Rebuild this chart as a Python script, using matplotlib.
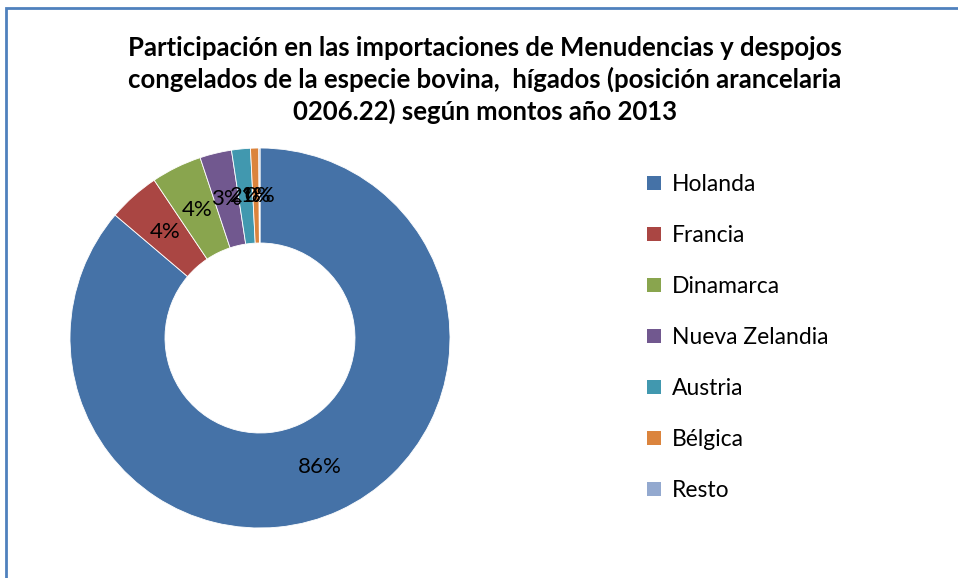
import matplotlib
matplotlib.use("Agg")
import matplotlib.pyplot as plt
from matplotlib.patches import Rectangle, Patch

categories = ["Holanda", "Francia", "Dinamarca", "Nueva Zelandia", "Austria", "Bélgica", "Resto"]
values = [86.2, 4.4, 4.3, 2.7, 1.6, 0.7, 0.1]
colors = ["#4572A7", "#AA4643", "#89A54E", "#71588F", "#4198AF", "#DB843D", "#93A9CF"]
title = ("Participación en las importaciones de Menudencias y despojos\n"
         "congelados de la especie bovina,  hígados (posición arancelaria\n"
         "0206.22) según montos año 2013")

W, H = 958, 578
fig = plt.figure(figsize=(W / 100, H / 100), dpi=100)
plt.rcParams['font.family'] = ['Lato', 'DejaVu Sans']

# frame border (cropped at right/bottom)
fig.patches.append(Rectangle((6 / W, -0.1), 1.2, (H - 8) / H + 0.1, transform=fig.transFigure,
                             fill=False, edgecolor="#4F81BD", linewidth=2.0))

cx, cy, r = 260, 338, 190
ax = fig.add_axes([(cx - r) / W, (H - cy - r) / H, 2 * r / W, 2 * r / H])
wedges, texts = ax.pie(values, colors=colors, startangle=90, counterclock=False,
                       radius=1.0, wedgeprops=dict(width=0.5, edgecolor="white", linewidth=0.6),
                       labels=[f"{round(v):d}%" for v in values], labeldistance=0.75,
                       textprops=dict(fontsize=16, color="black", ha="center", va="center"))
for t in texts:
    t.set_ha("center")
    t.set_va("center")
ax.set_xlim(-1, 1)
ax.set_ylim(-1, 1)
ax.set_aspect("equal")
ax.axis("off")

fig.text(485 / W, 1 - 80 / H, title, ha="center", va="center", fontsize=18.5,
         fontweight="bold", linespacing=1.33)

handles = [Patch(facecolor=c, edgecolor="none") for c in colors]
leg = fig.legend(handles, categories, loc="upper left", bbox_to_anchor=(647 / W, 1 - 174 / H),
                 frameon=False, fontsize=16.5, handlelength=0.6, handleheight=0.6,
                 handletextpad=0.5, labelspacing=1.31, borderpad=0, borderaxespad=0)

fig.savefig("out.png", dpi=100)
